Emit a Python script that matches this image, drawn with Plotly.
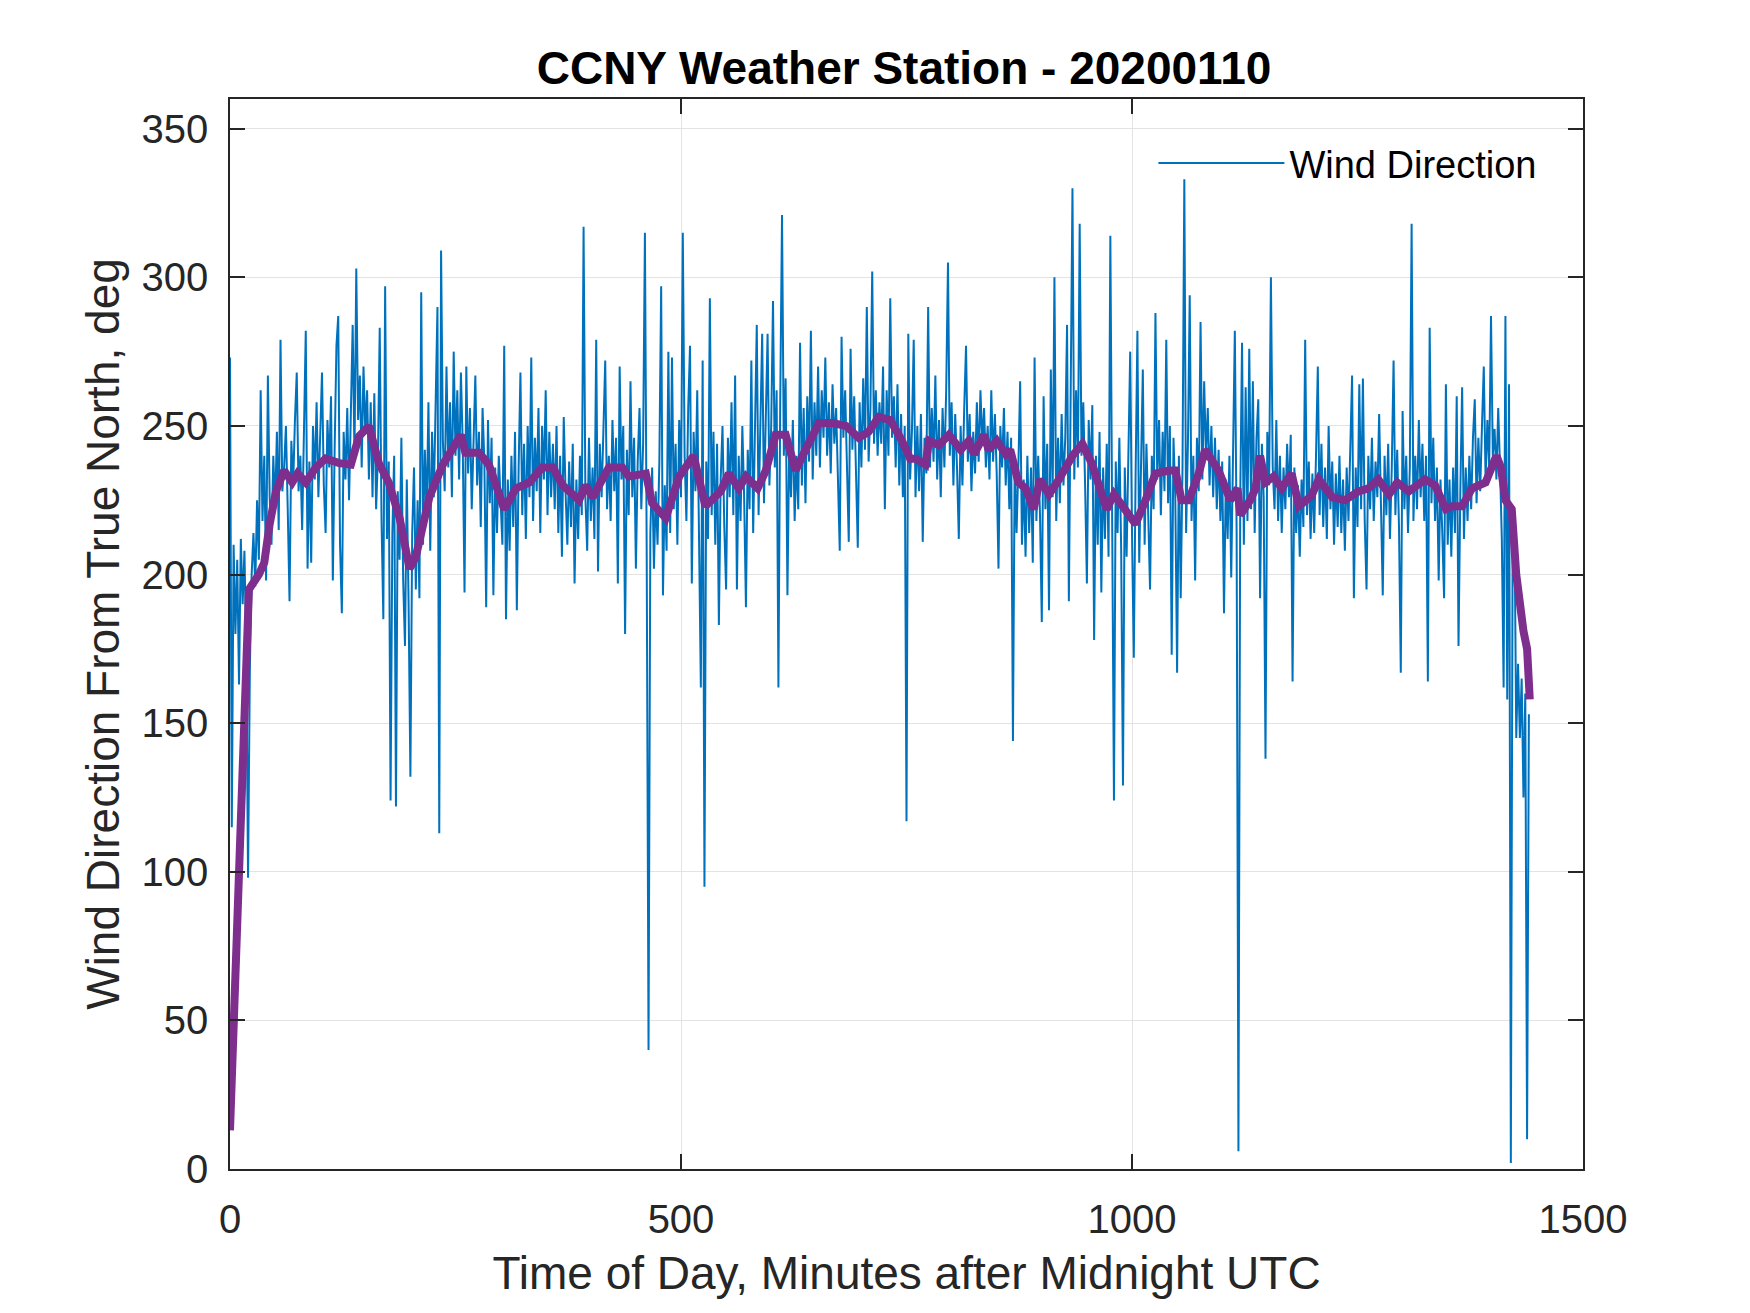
import plotly.graph_objects as go

#%% wind direction, one reading every 2 minutes, one row per hour
wind_dir = [
    273,115,210,180,205,163,212,190,208,175,98,168,200,214,196,225,205,262,218,240,198,267,226,210,240,222,248,215,279,228,
    236,250,222,191,245,230,252,268,228,240,215,246,282,202,238,204,250,232,258,226,244,268,230,214,252,236,260,198,242,277,
    287,210,187,248,232,256,225,262,284,240,303,252,267,236,270,248,262,232,258,226,261,222,240,283,218,185,297,212,238,124,
    214,240,122,228,205,246,198,176,232,190,132,214,236,195,225,192,295,210,242,220,258,208,248,226,262,290,113,309,245,228,
    270,236,258,226,275,240,262,232,268,244,194,270,234,256,222,250,267,230,248,216,256,238,189,252,224,246,193,236,214,240,
    226,210,277,185,232,208,240,216,248,188,236,268,220,244,212,250,226,273,218,246,228,256,214,250,232,262,220,248,226,244,
    222,250,214,240,206,253,228,210,238,216,244,197,232,212,240,220,317,226,208,246,218,236,212,279,201,244,226,250,272,222,
    240,218,252,228,246,197,270,232,250,180,242,220,265,226,246,202,238,256,222,244,315,206,40,214,236,202,228,210,238,297,
    193,230,208,275,214,273,222,244,210,252,226,315,240,218,256,277,197,248,228,262,214,162,272,95,238,212,293,220,248,210,
    244,183,232,250,216,195,246,226,258,220,267,195,240,218,250,226,189,242,222,272,214,246,284,220,252,281,224,256,281,230,
    250,292,236,262,162,258,321,240,266,193,244,226,252,218,240,222,278,230,256,224,260,238,282,232,258,240,270,236,262,246,
    273,240,258,234,264,244,256,232,208,280,246,262,236,211,276,242,260,230,209,258,236,266,242,290,238,256,302,244,262,240,
    258,244,270,222,262,240,293,246,260,236,264,230,254,226,250,117,281,232,248,279,226,250,228,254,211,246,234,290,236,256,
    238,267,232,252,226,256,236,262,305,240,258,230,254,236,212,250,230,256,277,238,254,228,248,234,258,238,262,244,256,236,
    250,232,262,238,254,234,202,250,236,256,230,248,222,246,144,240,214,236,265,210,232,206,240,214,236,204,273,218,240,220,
    184,260,222,244,188,269,226,300,218,246,224,254,230,246,284,191,250,330,232,262,236,318,240,258,230,197,252,232,257,178,
    240,210,248,194,236,212,244,206,314,222,124,238,214,246,208,129,236,206,240,275,214,172,234,282,204,238,269,210,244,220,
    195,240,222,288,232,252,220,248,228,279,224,250,173,246,226,167,240,192,236,333,214,244,294,218,240,198,246,228,285,232,
    265,240,256,230,250,226,246,222,242,218,238,187,232,212,240,199,236,282,214,6,226,278,210,263,218,276,222,265,214,246,
    259,192,244,226,138,248,230,300,236,222,252,218,240,214,236,222,244,226,247,164,236,214,230,206,232,216,279,220,238,212,
    234,214,240,270,220,244,216,236,212,250,222,238,210,234,216,240,214,232,208,236,218,240,267,192,236,216,264,222,266,218,
    195,240,222,246,218,238,226,254,222,193,240,220,244,212,236,272,220,242,216,167,255,222,240,214,236,318,218,240,222,252,
    226,244,218,240,164,283,224,246,218,236,198,232,214,192,264,210,232,206,236,214,260,176,228,263,212,236,218,240,222,246,
    259,224,246,228,250,270,232,252,236,287,240,249,232,256,236,212,162,287,158,264,2,213,219,145,170,145,165,125,160,10,153,
]
minutes = list(range(0, 2*len(wind_dir), 2))

#%% smoothed wind direction (purple curve), read at its turning points
smooth_min = [0,21,32,38,44,51,60,69,75,84,95,106,121,134,143,154,165,176,188,199,206,221,236,256,261,276,
              287,295,304,317,332,346,358,369,387,394,402,420,435,442,461,468,483,498,514,527,544,553,564,572,
              585,594,605,616,627,638,653,668,683,697,708,719,732,745,754,760,771,775,786,797,810,819,825,836,
              841,850,860,865,874,882,891,898,908,919,934,945,956,967,972,980,989,1004,1015,1026,1041,1048,
              1055,1063,1074,1081,1096,1109,1117,1120,1131,1137,1142,1148,1157,1166,1177,1185,1199,1207,1222,
              1236,1251,1262,1273,1285,1294,1307,1325,1336,1348,1355,1366,1377,1392,1404,1409,1414,1421,1426,
              1434,1438,1441]
smooth_val = [13,195,200,204,217,228,235,231,234,231,236,239,237.5,237,246.5,250,237.5,231,219,202,206,226,237,247,241,241,
              237,229,222,229,231,236,236,230,225,230,226,236,236,233,234,224,219,233,240,223,228,234,229,233,
              229,235,247,247,235,242,251,251,250,246,248,253,252,245,239,239,237,245,243.5,247,242,245,240.5,247,
              242,245,240.5,242,231,229,222,232,227,232,240,244,237,226.5,222,227,223,217,225,234,235,235,
              225,225,234,242,235,225,229,220,225,229,240,231,233,229,234,223,226.5,232,226,
              225,228,229,232,227,231,228,232,230,222,223,223,229,231,240,236,225,222,200,
              181,175,158]

#%% colours and fonts
blue = '#0072BD'
purple = '#7E2F8E'
axis_col = '#262626'
font_name = 'Liberation Sans, Arial, sans-serif'

fig = go.Figure()
fig.add_trace(go.Scatter(x=minutes, y=wind_dir, mode='lines', name='Wind Direction',
                         line=dict(color=blue, width=2)))
fig.add_trace(go.Scatter(x=smooth_min, y=smooth_val, mode='lines', showlegend=False,
                         line=dict(color=purple, width=8)))

axis_common = dict(showline=True, linecolor=axis_col, linewidth=1.5, mirror='ticks',
                   ticks='inside', ticklen=15, tickwidth=1.5, tickcolor=axis_col,
                   showgrid=True, gridcolor='#e3e3e3', gridwidth=1.3, zeroline=False,
                   tickfont=dict(family=font_name, size=40, color=axis_col))

fig.update_xaxes(range=[0, 1500], tickvals=[0, 500, 1000, 1500], ticklabelstandoff=14,
                 title=dict(text='Time of Day, Minutes after Midnight UTC', standoff=17,
                            font=dict(family=font_name, size=46, color=axis_col)),
                 **axis_common)
fig.update_yaxes(range=[0, 360], tickvals=[0, 50, 100, 150, 200, 250, 300, 350], ticklabelstandoff=12,
                 title=dict(text='Wind Direction From True North, deg', standoff=7,
                            font=dict(family=font_name, size=46, color=axis_col)),
                 **axis_common)

# the page body adds an 8 px offset, so margins are trimmed to keep the axes where they belong
fig.update_layout(
    width=1750, height=1313,
    margin=dict(l=222, r=175, t=91, b=152),
    paper_bgcolor='white', plot_bgcolor='white',
    title=dict(text='<b>CCNY Weather Station - 20200110</b>', x=0.512, xanchor='center',
               y=0.954, yanchor='middle',
               font=dict(family=font_name, size=46, color='black')),
    legend=dict(x=0.97, y=0.94, xanchor='right', yanchor='middle', bgcolor='rgba(0,0,0,0)',
                font=dict(family=font_name, size=38, color='black'), itemwidth=126),
    showlegend=True,
)

fig.write_html("out.html")
